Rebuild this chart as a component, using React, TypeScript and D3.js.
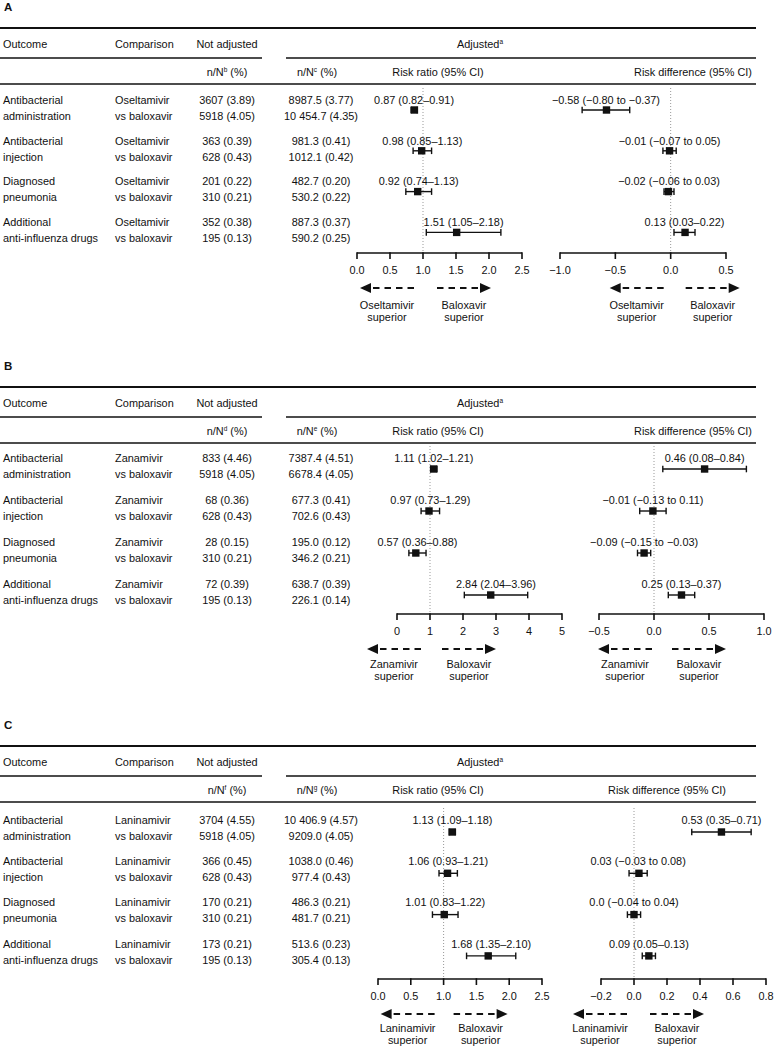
import React from "react";
import * as d3 from "d3";

const FONT = "'Liberation Sans', Arial, Helvetica, sans-serif";
const FS = 10.9;

// ---------- data ----------
const panelLetters = ["A", "B", "C"];
const comparators = ["Oseltamivir", "Zanamivir", "Laninamivir"];
const outcomeLines = [
  ["Antibacterial", "administration"],
  ["Antibacterial", "injection"],
  ["Diagnosed", "pneumonia"],
  ["Additional", "anti-influenza drugs"],
];
const notAdjustedSup = ["b", "d", "f"];
const adjustedSup = ["c", "e", "g"];

const notAdjustedA = [["3607 (3.89)", "5918 (4.05)"], ["363 (0.39)", "628 (0.43)"], ["201 (0.22)", "310 (0.21)"], ["352 (0.38)", "195 (0.13)"]];
const adjustedA = [["8987.5 (3.77)", "10 454.7 (4.35)"], ["981.3 (0.41)", "1012.1 (0.42)"], ["482.7 (0.20)", "530.2 (0.22)"], ["887.3 (0.37)", "590.2 (0.25)"]];
const notAdjustedB = [["833 (4.46)", "5918 (4.05)"], ["68 (0.36)", "628 (0.43)"], ["28 (0.15)", "310 (0.21)"], ["72 (0.39)", "195 (0.13)"]];
const adjustedB = [["7387.4 (4.51)", "6678.4 (4.05)"], ["677.3 (0.41)", "702.6 (0.43)"], ["195.0 (0.12)", "346.2 (0.21)"], ["638.7 (0.39)", "226.1 (0.14)"]];
const notAdjustedC = [["3704 (4.55)", "5918 (4.05)"], ["366 (0.45)", "628 (0.43)"], ["170 (0.21)", "310 (0.21)"], ["173 (0.21)", "195 (0.13)"]];
const adjustedC = [["10 406.9 (4.57)", "9209.0 (4.05)"], ["1038.0 (0.46)", "977.4 (0.43)"], ["486.3 (0.21)", "481.7 (0.21)"], ["513.6 (0.23)", "305.4 (0.13)"]];

// [estimate, lower, upper]
const rrA = [[0.87, 0.82, 0.91], [0.98, 0.85, 1.13], [0.92, 0.74, 1.13], [1.51, 1.05, 2.18]];
const rdA = [[-0.58, -0.8, -0.37], [-0.01, -0.07, 0.05], [-0.02, -0.06, 0.03], [0.13, 0.03, 0.22]];
const rrB = [[1.11, 1.02, 1.21], [0.97, 0.73, 1.29], [0.57, 0.36, 0.88], [2.84, 2.04, 3.96]];
const rdB = [[0.46, 0.08, 0.84], [-0.01, -0.13, 0.11], [-0.09, -0.15, -0.03], [0.25, 0.13, 0.37]];
const rrC = [[1.13, 1.09, 1.18], [1.06, 0.93, 1.21], [1.01, 0.83, 1.22], [1.68, 1.35, 2.1]];
const rdC = [[0.53, 0.35, 0.71], [0.03, -0.03, 0.08], [0.0, -0.04, 0.04], [0.09, 0.05, 0.13]];

const rrTicksA = [0, 0.5, 1, 1.5, 2, 2.5];
const rrTickLabelsA = ["0.0", "0.5", "1.0", "1.5", "2.0", "2.5"];
const rdTicksA = [-1, -0.5, 0, 0.5];
const rdTickLabelsA = ["−1.0", "−0.5", "0.0", "0.5"];
const rrTicksB = [0, 1, 2, 3, 4, 5];
const rrTickLabelsB = ["0", "1", "2", "3", "4", "5"];
const rdTicksB = [-0.5, 0, 0.5, 1];
const rdTickLabelsB = ["−0.5", "0.0", "0.5", "1.0"];
const rrTicksC = [0, 0.5, 1, 1.5, 2, 2.5];
const rrTickLabelsC = ["0.0", "0.5", "1.0", "1.5", "2.0", "2.5"];
const rdTicksC = [-0.2, 0, 0.2, 0.4, 0.6, 0.8];
const rdTickLabelsC = ["−0.2", "0.0", "0.2", "0.4", "0.6", "0.8"];

const panels = [
  { notAdj: notAdjustedA, adj: adjustedA, rr: rrA, rd: rdA, rrTicks: rrTicksA, rrTickLabels: rrTickLabelsA, rdTicks: rdTicksA, rdTickLabels: rdTickLabelsA },
  { notAdj: notAdjustedB, adj: adjustedB, rr: rrB, rd: rdB, rrTicks: rrTicksB, rrTickLabels: rrTickLabelsB, rdTicks: rdTicksB, rdTickLabels: rdTickLabelsB },
  { notAdj: notAdjustedC, adj: adjustedC, rr: rrC, rd: rdC, rrTicks: rrTicksC, rrTickLabels: rrTickLabelsC, rdTicks: rdTicksC, rdTickLabels: rdTickLabelsC },
];

// ---------- layout ----------
const layouts = [
  { top: 28, rowStart: 100, rowStep: 40.8, markOff: 10, axisY: 253, rrX: [357, 522], rdX: [560, 726], rdHeadX: 693,
    rrArrows: [-63, 14], rdArrows: [-61, 15], labOff: [52, 64] },
  { top: 387, rowStart: 458, rowStep: 42, markOff: 11, axisY: 614, rrX: [397, 562], rdX: [599, 764], rdHeadX: 693,
    rrArrows: [-63, 12], rdArrows: [-56, 18], labOff: [50, 62] },
  { top: 746, rowStart: 820, rowStep: 41.3, markOff: 12, axisY: 979, rrX: [378, 542], rdX: [601, 766], rdHeadX: 667,
    rrArrows: [-63, 10], rdArrows: [-61, 16], labOff: [49.5, 61.5] },
];

const fmt2 = (v: number) => (v === 0 ? "0.0" : (v < 0 ? "−" : "") + Math.abs(v).toFixed(2));
const ciLabel = (d: number[]) => {
  const neg = d[1] < 0 || d[2] < 0;
  return `${fmt2(d[0])} (${fmt2(d[1])}${neg ? " to " : "–"}${fmt2(d[2])})`;
};

const T = (props: any) => (
  <text fontFamily={FONT} fontSize={FS} fill="#111" {...props} />
);

const ARROW_LEN = 54;
const HEAD = 11;

function Arrow({ tip, dir, y }: { tip: number; dir: number; y: number }) {
  // dir = -1 pointing left, +1 pointing right
  const base = tip - dir * HEAD;
  const tail = tip - dir * ARROW_LEN;
  return (
    <g>
      <line x1={tail} x2={base - dir * 2} y1={y} y2={y} stroke="#111" strokeWidth={1.9} strokeDasharray="6.5,5" />
      <path d={`M${tip},${y} L${base},${y - 5} L${base},${y + 5} Z`} fill="#111" />
    </g>
  );
}

function ForestAxis({ scale, ticks, labels, lay, data, arrows, drug, rowYs }: any) {
  const [x0, x1] = scale.range();
  const nullVal = scale.domain()[0] < 0 ? 0 : 1;
  const nx = scale(nullVal);
  const ay = lay.axisY;
  const leftTip = nx + arrows[0];
  const rightStart = nx + arrows[1];
  const rightTip = rightStart + ARROW_LEN;
  const arrowY = ay + 35;
  return (
    <g>
      <line x1={nx} x2={nx} y1={lay.rowStart - 12} y2={ay} stroke="#999" strokeWidth={1} strokeDasharray="1,2" />
      {data.map((d: number[], i: number) => {
        const y = rowYs[i];
        const my = y + lay.markOff;
        const mid = scale((d[1] + d[2]) / 2);
        return (
          <g key={i}>
            <T x={mid} y={y + 3.8} textAnchor="middle">{ciLabel(d)}</T>
            <line x1={scale(d[1])} x2={scale(d[2])} y1={my} y2={my} stroke="#111" strokeWidth={1.4} />
            <line x1={scale(d[1])} x2={scale(d[1])} y1={my - 3.3} y2={my + 3.3} stroke="#111" strokeWidth={1.4} />
            <line x1={scale(d[2])} x2={scale(d[2])} y1={my - 3.3} y2={my + 3.3} stroke="#111" strokeWidth={1.4} />
            <rect x={scale(d[0]) - 3.7} y={my - 3.7} width={7.4} height={7.4} fill="#111" />
          </g>
        );
      })}
      <line x1={x0} x2={x1} y1={ay} y2={ay} stroke="#111" strokeWidth={1.6} />
      {ticks.map((t: number, i: number) => (
        <g key={i}>
          <line x1={scale(t)} x2={scale(t)} y1={ay - 0.8} y2={ay + 6} stroke="#111" strokeWidth={1.6} />
          <T x={scale(t)} y={ay + 21} textAnchor="middle">{labels[i]}</T>
        </g>
      ))}
      <Arrow tip={leftTip} dir={-1} y={arrowY} />
      <Arrow tip={rightTip} dir={1} y={arrowY} />
      <T x={leftTip + ARROW_LEN / 2} y={ay + lay.labOff[0] + 3.8} textAnchor="middle">{drug}</T>
      <T x={leftTip + ARROW_LEN / 2} y={ay + lay.labOff[1] + 3.8} textAnchor="middle">superior</T>
      <T x={rightStart + ARROW_LEN / 2} y={ay + lay.labOff[0] + 3.8} textAnchor="middle">Baloxavir</T>
      <T x={rightStart + ARROW_LEN / 2} y={ay + lay.labOff[1] + 3.8} textAnchor="middle">superior</T>
    </g>
  );
}

function Panel({ idx }: { idx: number }) {
  const p = panels[idx];
  const lay = layouts[idx];
  const top = lay.top;
  const rowYs = p.rr.map((_, i) => lay.rowStart + i * lay.rowStep);
  const rrScale = d3.scaleLinear().domain([p.rrTicks[0], p.rrTicks[p.rrTicks.length - 1]]).range(lay.rrX);
  const rdScale = d3.scaleLinear().domain([p.rdTicks[0], p.rdTicks[p.rdTicks.length - 1]]).range(lay.rdX);
  const h1 = top + 16 + 3.8;
  const h2 = top + 44 + 3.8;
  return (
    <g>
      <text x={4} y={top - 17} fontFamily={FONT} fontSize={11.5} fontWeight="bold" fill="#111">{panelLetters[idx]}</text>
      <line x1={0} x2={756} y1={top} y2={top} stroke="#111" strokeWidth={2} />
      <T x={3} y={h1}>Outcome</T>
      <T x={115} y={h1}>Comparison</T>
      <T x={227} y={h1} textAnchor="middle">Not adjusted</T>
      <T x={457} y={h1}>Adjusted<tspan fontSize={6.5} dy={-4}>a</tspan></T>
      <line x1={0} x2={262} y1={top + 30} y2={top + 30} stroke="#111" strokeWidth={1.6} />
      <line x1={286} x2={756} y1={top + 30} y2={top + 30} stroke="#111" strokeWidth={1.6} />
      <T x={227} y={h2} textAnchor="middle">n/N<tspan fontSize={6.5} dy={-4}>{notAdjustedSup[idx]}</tspan><tspan dy={4}> (%)</tspan></T>
      <T x={317} y={h2} textAnchor="middle">n/N<tspan fontSize={6.5} dy={-4}>{adjustedSup[idx]}</tspan><tspan dy={4}> (%)</tspan></T>
      <T x={438} y={h2} textAnchor="middle">Risk ratio (95% CI)</T>
      <T x={lay.rdHeadX} y={h2} textAnchor="middle">Risk difference (95% CI)</T>
      <line x1={0} x2={756} y1={top + 56} y2={top + 56} stroke="#111" strokeWidth={1.6} />
      {outcomeLines.map((o, i) => {
        const y = rowYs[i] + 3.8;
        return (
          <g key={i}>
            <T x={3} y={y}>{o[0]}</T>
            <T x={3} y={y + 16}>{o[1]}</T>
            <T x={115} y={y}>{comparators[idx]}</T>
            <T x={115} y={y + 16}>vs baloxavir</T>
            <T x={227} y={y} textAnchor="middle">{p.notAdj[i][0]}</T>
            <T x={227} y={y + 16} textAnchor="middle">{p.notAdj[i][1]}</T>
            <T x={321} y={y} textAnchor="middle">{p.adj[i][0]}</T>
            <T x={321} y={y + 16} textAnchor="middle">{p.adj[i][1]}</T>
          </g>
        );
      })}
      <ForestAxis scale={rrScale} ticks={p.rrTicks} labels={p.rrTickLabels} lay={lay} data={p.rr} arrows={lay.rrArrows} drug={comparators[idx]} rowYs={rowYs} />
      <ForestAxis scale={rdScale} ticks={p.rdTicks} labels={p.rdTickLabels} lay={lay} data={p.rd} arrows={lay.rdArrows} drug={comparators[idx]} rowYs={rowYs} />
    </g>
  );
}

export default function App() {
  return (
    <svg width={775} height={1047} style={{ position: "absolute", left: 0, top: 0, background: "#fff" }}>
      <rect width={775} height={1047} fill="#fff" />
      {[0, 1, 2].map((i) => (
        <Panel key={i} idx={i} />
      ))}
    </svg>
  );
}
